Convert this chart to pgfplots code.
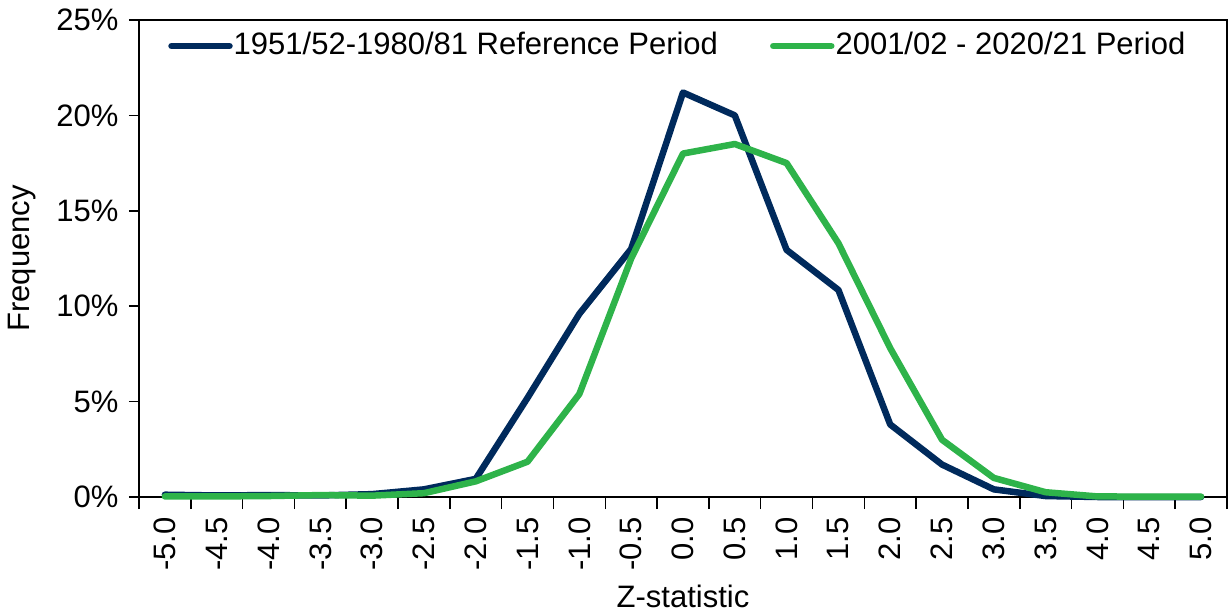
\documentclass[border=0pt]{standalone}
\usepackage{pgfplots}
\pgfplotsset{compat=1.18}
\usepackage{fontspec}
\setmainfont{Liberation Sans}
\definecolor{navy}{RGB}{0,42,92}
\definecolor{lgreen}{RGB}{46,179,74}
\begin{document}
\fontsize{31}{36}\selectfont
\begin{tikzpicture}
\begin{axis}[
  scale only axis,
  width=1088pt, height=477pt,
  xmin=-0.5, xmax=20.5,
  ymin=0, ymax=25,
  clip=false,
  axis line style={line width=1.5pt},
  every tick/.style={black, line width=1.5pt},
  tick align=outside,
  xtick pos=bottom, ytick pos=left,
  major tick length=10pt,
  minor tick length=12pt,
  xtick={0,...,20},
  xticklabels={-5.0,-4.5,-4.0,-3.5,-3.0,-2.5,-2.0,-1.5,-1.0,-0.5,0.0,0.5,1.0,1.5,2.0,2.5,3.0,3.5,4.0,4.5,5.0},
  major x tick style={draw=none},
  minor xtick={-0.5,0.5,...,20.5},
  ytick={0,5,10,15,20,25},
  yticklabels={0\%,5\%,10\%,15\%,20\%,25\%},
  xticklabel style={rotate=90, anchor=east},
  tick label style={font=\fontsize{31}{36}\selectfont},
  label style={font=\fontsize{31}{36}\selectfont},
  xlabel={Z-statistic},
  xlabel style={yshift=7pt},
  ylabel={Frequency},
  legend columns=2,
  legend style={draw=none, fill=none, at={(0.0267,0.9455)}, anchor=west, inner sep=0pt,
    font=\fontsize{31}{36}\selectfont,
    /tikz/every even column/.append style={column sep=51pt},
    nodes={inner sep=1pt}},
  legend image code/.code={\draw[#1, line cap=round] (0pt,0pt) -- (58pt,0pt);},
  every axis plot/.append style={line width=6.5pt, line join=round, line cap=round},
]
\addplot[navy] coordinates {
(0,0.12) (1,0.08) (2,0.1) (3,0.08) (4,0.15) (5,0.4) (6,0.95) (7,5.2) (8,9.6) (9,13.0)
(10,21.2) (11,20.0) (12,12.95) (13,10.85) (14,3.8) (15,1.7) (16,0.4) (17,0.05) (18,0) (19,0) (20,0)};
\addlegendentry{1951/52-1980/81 Reference Period}
\addplot[lgreen] coordinates {
(0,0.03) (1,0.03) (2,0.05) (3,0.1) (4,0.07) (5,0.2) (6,0.82) (7,1.85) (8,5.4) (9,12.5)
(10,18.0) (11,18.5) (12,17.5) (13,13.3) (14,7.8) (15,3.0) (16,1.0) (17,0.25) (18,0.03) (19,0.02) (20,0.02)};
\addlegendentry{2001/02 - 2020/21 Period}
\end{axis}
\pgfresetboundingbox
\path (-139pt,-118pt) rectangle (1089pt,497pt);
\end{tikzpicture}
\end{document}
